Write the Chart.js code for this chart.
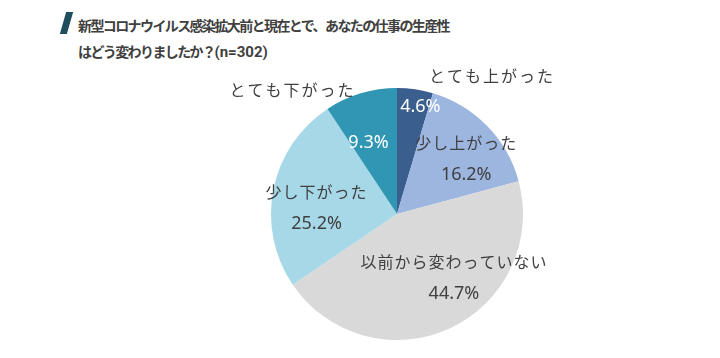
<!DOCTYPE html>
<html>
<head>
<meta charset="utf-8">
<script src="https://cdn.jsdelivr.net/npm/chart.js@4"></script>
<style>
  html, body { margin: 0; padding: 0; background: #fff; }
  .wrap { position: relative; width: 720px; height: 358px; overflow: hidden; }
  .title { position: absolute; left: 78px; top: 12px; font-family: 'Noto Sans CJK JP', sans-serif; font-weight: bold;
           font-size: 14px; line-height: 26px; color: #404040; letter-spacing: -1.6px; }
  .title .n { letter-spacing: 0; font-family: 'Roboto', sans-serif; font-size: 15px; }
  .slash { position: absolute; left: 63px; top: 12px; width: 7px; height: 22px; background: #1e4d5b; transform: skewX(-16deg); }
  canvas { position: absolute; left: 0; top: 0; }
</style>
</head>
<body>
<div class="wrap">
  <div class="slash"></div>
  <div class="title">新型コロナウイルス感染拡大前と現在とで、あなたの仕事の生産性<br>はどう変わりましたか？<span class="n">(n=302)</span></div>
  <canvas id="pie" width="720" height="358"></canvas>
</div>
<script>
const CATEGORIES = ['とても上がった', '少し上がった', '以前から変わっていない', '少し下がった', 'とても下がった'];
const VALUES = [4.6, 16.2, 44.7, 25.2, 9.3];
const COLORS = ['#3a5e8e', '#9db6e0', '#d9d9d9', '#a6d8e8', '#3196b4'];

// label placement per slice: angle shift (deg) and distance as fraction of radius
const LABEL_POS = [
  { shift: 4, dist: 0.87, nameInside: false, color: '#ffffff', name: { angle: 34.5, dist: 1.33 } },
  { shift: 6, dist: 0.70, nameInside: true, color: '#404040' },
  { shift: -17, dist: 0.68, nameInside: true, color: '#404040' },
  { shift: -7, dist: 0.64, nameInside: true, color: '#404040' },
  { shift: -5, dist: 0.61, nameInside: false, color: '#ffffff', name: { angle: 320, dist: 1.29 } },
];

const labelPlugin = {
  id: 'sliceLabels',
  afterDatasetsDraw(chart) {
    const ctx = chart.ctx;
    const meta = chart.getDatasetMeta(0);
    ctx.save();
    ctx.textAlign = 'center';
    ctx.textBaseline = 'middle';
    meta.data.forEach((arc, i) => {
      const p = arc.getProps(['x', 'y', 'startAngle', 'endAngle', 'outerRadius'], true);
      const pos = LABEL_POS[i];
      const mid = (p.startAngle + p.endAngle) / 2 + pos.shift * Math.PI / 180;
      const r = p.outerRadius * pos.dist;
      const cx = p.x + Math.cos(mid) * r;
      const cy = p.y + Math.sin(mid) * r;
      const pct = VALUES[i].toFixed(1) + '%';
      ctx.letterSpacing = '1px';
      if (pos.nameInside) {
        ctx.fillStyle = pos.color;
        ctx.font = '16px "Noto Sans CJK JP", sans-serif';
        ctx.fillText(CATEGORIES[i], cx, cy - 16);
        ctx.letterSpacing = '0px';
        ctx.font = '18px "Noto Sans", "DejaVu Sans", sans-serif';
        ctx.fillText(pct, cx, cy + 16);
      } else {
        ctx.fillStyle = pos.color;
        ctx.letterSpacing = '0px';
        ctx.font = '18px "Noto Sans", "DejaVu Sans", sans-serif';
        ctx.fillText(pct, cx, cy);
        const a = (pos.name.angle - 90) * Math.PI / 180;
        const rr = p.outerRadius * pos.name.dist;
        ctx.fillStyle = '#404040';
        ctx.letterSpacing = '2px';
        ctx.font = '16px "Noto Sans CJK JP", sans-serif';
        ctx.fillText(CATEGORIES[i], p.x + Math.cos(a) * rr, p.y + Math.sin(a) * rr);
      }
    });
    ctx.restore();
  }
};

new Chart(document.getElementById('pie'), {
  type: 'pie',
  data: {
    labels: CATEGORIES,
    datasets: [{ data: VALUES, backgroundColor: COLORS, borderWidth: 0 }]
  },
  options: {
    responsive: false,
    animation: false,
    layout: { padding: { top: 88, bottom: 18, left: 271, right: 197 } },
    plugins: { legend: { display: false }, tooltip: { enabled: false } }
  },
  plugins: [labelPlugin]
});
</script>
</body>
</html>
